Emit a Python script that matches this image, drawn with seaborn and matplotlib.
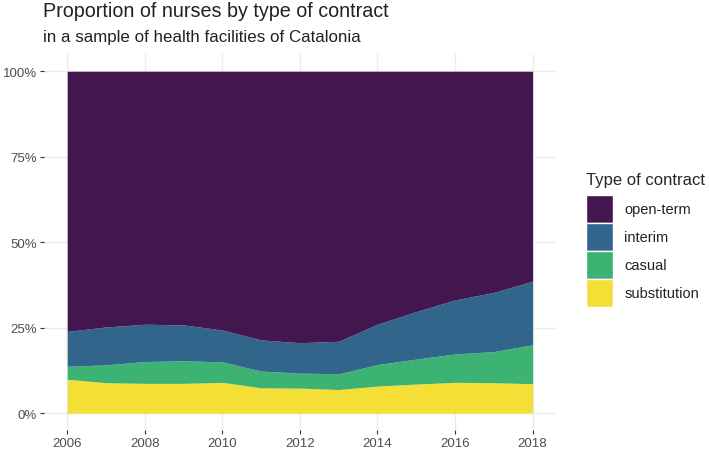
import numpy as np
import pandas as pd
import matplotlib
matplotlib.use("Agg")
import matplotlib.pyplot as plt
import matplotlib.patches as mpatches
from matplotlib.ticker import FuncFormatter
import seaborn as sns

# shares (%)
years = list(range(2006, 2019))
substitution = [9.9, 8.9, 8.7, 8.7, 9.0, 7.4, 7.3, 6.9, 7.9, 8.5, 9.0, 8.9, 8.6]
casual = [3.8, 5.2, 6.4, 6.6, 6.0, 4.9, 4.4, 4.6, 6.3, 7.3, 8.3, 9.1, 11.4]
interim = [10.2, 11.1, 10.9, 10.5, 9.3, 9.1, 8.9, 9.5, 11.8, 13.9, 15.8, 17.3, 18.6]
contracts = ["open-term", "interim", "casual", "substitution"]
colores = ["#43164F", "#32658C", "#3CB373", "#F4DF37"]

df = pd.DataFrame({"year": years, "substitution": substitution,
                   "casual": casual, "interim": interim})
df["open-term"] = 100 - df["substitution"] - df["casual"] - df["interim"]
props = df[contracts[::-1]].div(100)

sns.set_theme(style="whitegrid")
plt.rcParams["font.family"] = ["Liberation Sans", "DejaVu Sans"]

fig = plt.figure(figsize=(7.09, 4.52), dpi=100)
ax = fig.add_axes([0.062, 0.046, 0.722, 0.832])

ax.stackplot(df["year"], *[props[c] for c in contracts[::-1]],
             colors=colores[::-1], linewidth=0)

ax.set_xlim(2006 - 0.6, 2018 + 0.6)
ax.set_ylim(-0.05, 1.05)
ax.set_xticks([2006, 2008, 2010, 2012, 2014, 2016, 2018])
ax.set_yticks([0, 0.25, 0.5, 0.75, 1.0])
ax.yaxis.set_major_formatter(FuncFormatter(lambda v, p: f"{v*100:.0f}%"))
ax.grid(color="#EBEBEB", linewidth=1)
ax.set_axisbelow(True)
for s in ax.spines.values():
    s.set_visible(False)
ax.set_facecolor("white")
ax.tick_params(axis="both", labelsize=9.5, labelcolor="#4D4D4D", colors="#333333",
               length=3, width=0.8, pad=2, left=True, bottom=True)
ax.tick_params(labelcolor="#4D4D4D")
ax.set_xlabel("")
ax.set_ylabel("")

fig.text(0.061, 0.962, "Proportion of nurses by type of contract", fontsize=14.2,
         color="#222222", va="baseline")
fig.text(0.061, 0.908, "in a sample of health facilities of Catalonia", fontsize=12.2,
         color="#222222", va="baseline")

handles = [mpatches.Patch(facecolor=c, edgecolor="white", linewidth=1, label=l)
           for c, l in zip(colores, contracts)]
leg = fig.legend(handles=handles, title="Type of contract", loc="upper left",
                 bbox_to_anchor=(0.818, 0.63), frameon=False, fontsize=10.5,
                 title_fontsize=12, handlelength=1.85, handleheight=2.5,
                 labelspacing=0.05, handletextpad=0.8, borderaxespad=0)
leg._legend_box.align = "left"
leg._legend_box.sep = 6
for t in leg.get_texts():
    t.set_color("#222222")

fig.savefig("out.png", dpi=100)
